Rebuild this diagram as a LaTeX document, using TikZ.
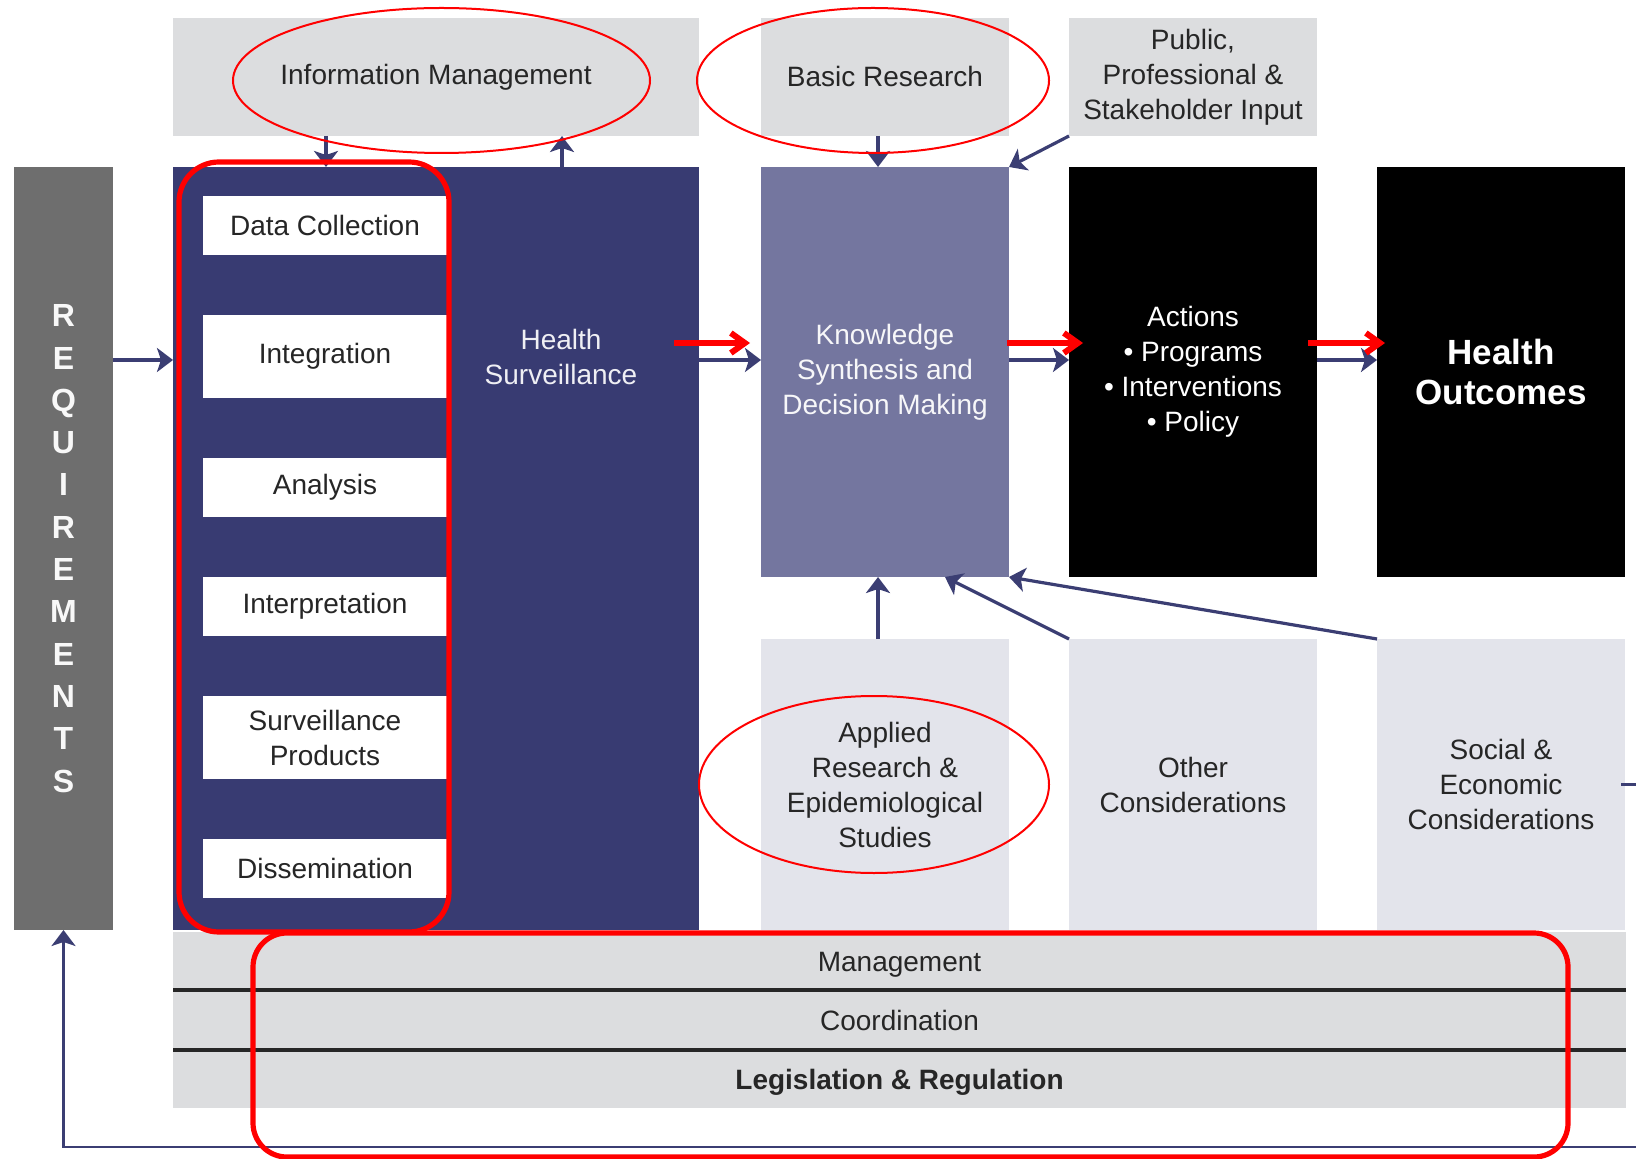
\documentclass[tikz,border=0pt]{standalone}
\usepackage{fontspec}
\setmainfont{Liberation Sans}
\usetikzlibrary{positioning,calc,shapes.geometric,arrows.meta}

\definecolor{navy}{HTML}{383B72}
\definecolor{slate}{HTML}{74769F}
\definecolor{reqgray}{HTML}{6E6E6E}
\definecolor{boxgray}{HTML}{DCDDDF}
\definecolor{paleblue}{HTML}{E3E4EB}
\definecolor{arrownavy}{HTML}{3B3E73}
\definecolor{textdark}{HTML}{262626}
\definecolor{markred}{HTML}{FF0000}

\tikzset{
  base/.style={inner sep=0pt, outer sep=0pt, align=center, font=\fontsize{14}{17.5}\selectfont},
  panel/.style={base, fill=boxgray, text=textdark, minimum width=124pt, minimum height=59pt},
  lowpanel/.style={base, fill=paleblue, text=textdark, minimum width=124pt, minimum height=145.5pt},
  darkbox/.style={base, fill=black, text=white, minimum width=124pt, minimum height=205pt},
  stepbox/.style={base, fill=white, text=textdark, minimum width=122pt, minimum height=29.5pt},
  tallstep/.style={stepbox, minimum height=41.5pt},
  band/.style={base, fill=boxgray, text=textdark, minimum width=726.5pt, minimum height=29pt, text height=10pt, text depth=0pt},
  flow/.style={draw=arrownavy, line width=1.6pt, -{Stealth[length=8pt, width=12pt, inset=2pt]}},
  redarrow/.style={draw=markred, line width=3pt, -{Straight Barb[length=7pt, width=10pt]}},
  redring/.style={ellipse, draw=markred, line width=1pt, inner sep=0pt},
  redbox/.style={draw=markred, line width=2.6pt, rounded corners=18pt},
}

\begin{document}
\begin{tikzpicture}
  \useasboundingbox (0,0) rectangle (818pt,-579.5pt);

  % surveillance block
  \node[base, fill=navy, minimum width=263pt, minimum height=381.5pt, anchor=north west] (hs) at (86.5pt,-83.5pt) {};
  \node[base, fill=reqgray, text=white!95!reqgray, minimum width=49.5pt, minimum height=381.5pt,
        font=\fontsize{16}{21.15}\selectfont\bfseries, left=30pt of hs] (req) {R\\E\\Q\\U\\I\\R\\E\\M\\E\\N\\T\\S};
  \node[panel, minimum width=263pt, above=15.5pt of hs] (im) {Information Management};

  \node[stepbox, below right=14.5pt and 15pt of hs.north west] (dc) {Data Collection};
  \node[tallstep, below=30pt of dc] (int) {Integration};
  \node[stepbox, below=30pt of int] (ana) {Analysis};
  \node[stepbox, below=30pt of ana] (interp) {Interpretation};
  \node[tallstep, below=30pt of interp] (sp) {Surveillance\\Products};
  \node[stepbox, below=30pt of sp] (dis) {Dissemination};
  \node[base, text=white!92!navy] (hstext) at ($(hs.north)+(62.5pt,-95pt)$) {Health\\Surveillance};

  % main row
  \node[base, fill=slate, text=white!94!slate, minimum width=124pt, minimum height=205pt,
        right=31pt of hs.north east, anchor=north west] (kn) {Knowledge\\Synthesis and\\Decision Making};
  \node[darkbox, right=30pt of kn] (act) {Actions\\\textbullet{} Programs\\\textbullet{} Interventions\\\textbullet{} Policy};
  \node[darkbox, right=30pt of act, font=\fontsize{17.5}{20}\selectfont\bfseries] (out) {Health\\Outcomes};

  \node[panel, above=15.5pt of kn] (br) {Basic Research};
  \node[panel, above=15.5pt of act] (pub) {Public,\\Professional \&\\Stakeholder Input};

  \node[lowpanel, below=31pt of kn] (app) {Applied\\Research \&\\Epidemiological\\Studies};
  \node[lowpanel, below=31pt of act] (oth) {Other\\Considerations};
  \node[lowpanel, below=31pt of out] (soc) {Social \&\\Economic\\Considerations};

  % bands
  \node[band, below right=1pt and 0pt of hs.south west] (mgmt) {Management};
  \node[band, minimum height=30pt, below=0pt of mgmt] (coord) {Coordination};
  \node[band, below=0pt of coord, font=\fontsize{14}{17.5}\selectfont\bfseries] (legis) {Legislation \& Regulation};
  \draw[line width=1.6pt, black!85] (coord.north west) -- (coord.north east);
  \draw[line width=1.6pt, black!85] (legis.north west) -- (legis.north east);

  % connectors
  \coordinate (row) at ($(kn.west)+(0,6pt)$);
  \coordinate (redrow) at ($(kn.west)+(0,14.5pt)$);
  \draw[flow] (req.east |- row) -- (hs.west |- row);
  \draw[flow] (hs.east |- row) -- (kn.west |- row);
  \draw[flow] (kn.east |- row) -- (act.west |- row);
  \draw[flow] (act.east |- row) -- (out.west |- row);
  \draw[flow] ([xshift=-55pt]im.south) -- ([xshift=-55pt]hs.north);
  \draw[flow] ([xshift=63pt]hs.north) -- ([xshift=63pt]im.south);
  \draw[flow] ([xshift=-3.5pt]br.south) -- ([xshift=-3.5pt]kn.north);
  \draw[flow] (pub.south west) -- (kn.north east);
  \draw[flow] ([xshift=-3.5pt]app.north) -- ([xshift=-3.5pt]kn.south);
  \draw[flow] (oth.north west) -- ([xshift=30pt]kn.south);
  \draw[flow] (soc.north west) -- (kn.south east);
  \draw[draw=arrownavy, line width=1.5pt] ([xshift=-2pt]soc.east) -- ++(9pt,0); % cut off at the edge
  \coordinate (fb) at ($(legis.south east)+(5pt,-19.5pt)$);
  \draw[flow, line width=1.3pt] (fb) -- (req.south |- fb) -- (req.south);

  % red marks
  \draw[redarrow] ($(hs.east |- redrow)+(-12.5pt,0)$) -- ($(kn.west |- redrow)+(-5.5pt,0)$);
  \draw[redarrow] ($(kn.east |- redrow)+(-1pt,0)$) -- ($(act.west |- redrow)+(7pt,0)$);
  \draw[redarrow] ($(act.east |- redrow)+(-4.5pt,0)$) -- ($(out.west |- redrow)+(4pt,0)$);
  \node[redring, minimum width=208.5pt, minimum height=72.5pt] (imring) at ($(im.center)+(2.75pt,-1.75pt)$) {};
  \node[redring, minimum width=176pt, minimum height=72.5pt] (brring) at ($(br.center)+(-6pt,-1.75pt)$) {};
  \node[redring, minimum width=175pt, minimum height=88.5pt] (appring) at ($(app.center)+(-5.5pt,0)$) {};
  \draw[redbox, rounded corners=20pt] ($(hs.north west)+(3pt,2.5pt)$) rectangle ($(dc.east |- hs.south)+(1pt,-1pt)$);
  \draw[redbox, rounded corners=17pt] ($(mgmt.north west)+(40pt,-0.5pt)$) rectangle ($(legis.south east)+(-29pt,-24.5pt)$);
\end{tikzpicture}
\end{document}
